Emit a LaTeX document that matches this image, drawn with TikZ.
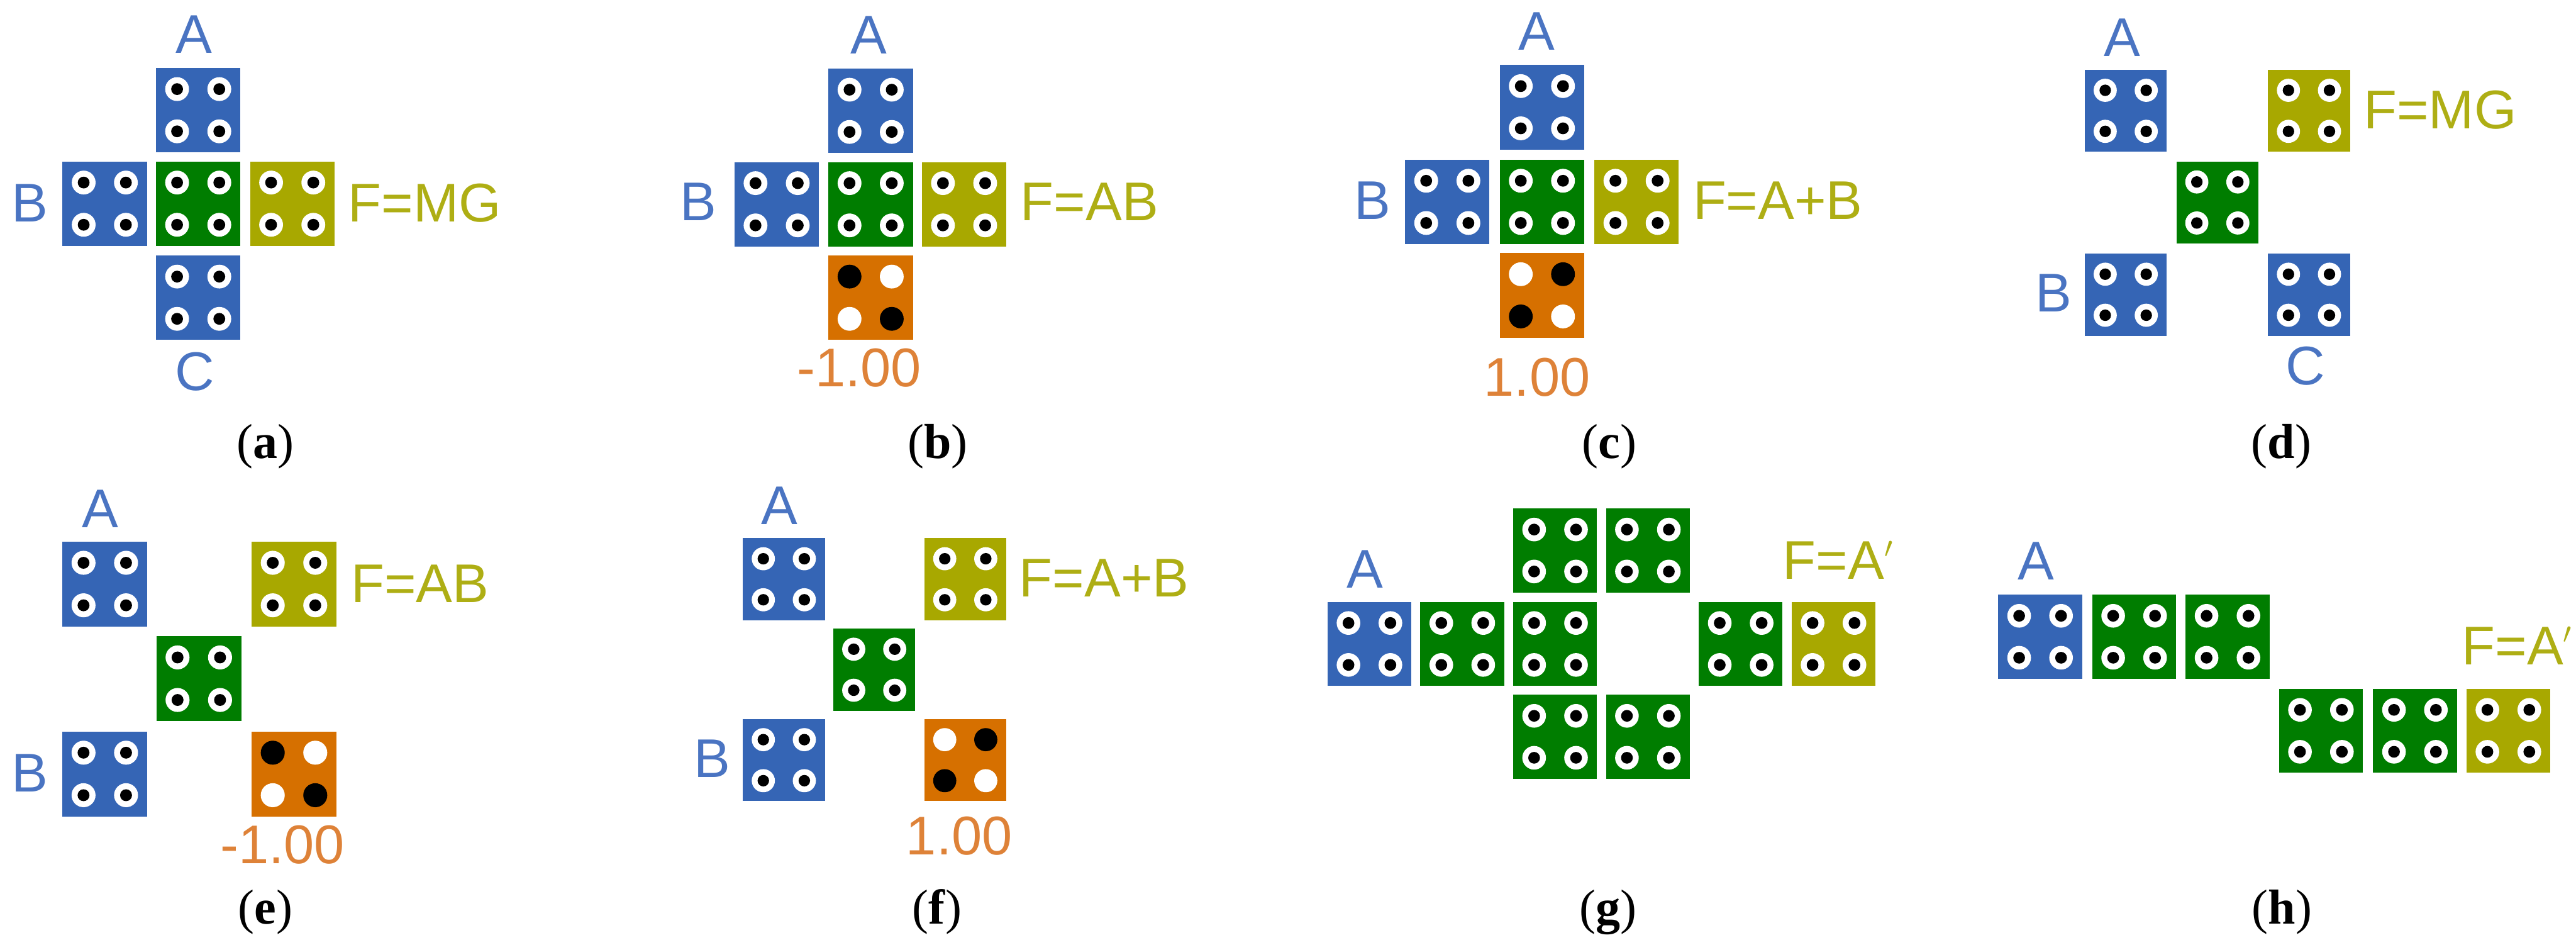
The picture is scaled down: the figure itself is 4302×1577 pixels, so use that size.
\documentclass[tikz,border=0pt]{standalone}
\usepackage{fontspec}
\setmainfont{Liberation Sans}
\newfontfamily\capfont{Liberation Serif}
\definecolor{tblue}{HTML}{3565B5}
\definecolor{tgreen}{HTML}{007D00}
\definecolor{tolive}{HTML}{A8A800}
\definecolor{torange}{HTML}{D67000}
\definecolor{lblue}{HTML}{4A74C2}
\definecolor{lolive}{HTML}{AEAE14}
\definecolor{lorange}{HTML}{DE8238}
\tikzset{
  tile/.style={rectangle,inner sep=0pt,minimum size={\tsz*.5pt}},
  ring/.style={circle,inner sep=0pt,fill=white,minimum size={\tsz*.141pt}},
  dot/.style={circle,inner sep=0pt,fill=black,minimum size={\tsz*.07pt}},
  lab/.style={anchor=base,inner sep=0pt,font=\fontsize{45.5}{50}\selectfont},
  labw/.style={lab,anchor=base west},
  caption/.style={anchor=base,inner sep=0pt,font=\fontsize{41}{44}\selectfont\capfont}
}
\newcommand{\tile}[4]{
  \node[tile,fill=#4] (#1) at (#2,#3) {};
  \foreach \sx/\sy/\n in {-1/-1/1,1/-1/2,-1/1/3,1/1/4} {
    \node[ring] (#1r\n) at (#2+\sx*\tsz*.25,#3+\sy*\tsz*.25) {};
    \node[dot] (#1d\n) at (#1r\n) {};
  }
}
\newcommand{\sgn}[5]{
  \node[tile,fill=torange] (#1) at (#2,#3) {};
  \node[ring,fill=#4] (#1r1) at (#2-\tsz*.25,#3-\tsz*.25) {};
  \node[ring,fill=#5] (#1r2) at (#2+\tsz*.25,#3-\tsz*.25) {};
  \node[ring,fill=#5] (#1r3) at (#2-\tsz*.25,#3+\tsz*.25) {};
  \node[ring,fill=#4] (#1r4) at (#2+\tsz*.25,#3+\tsz*.25) {};
}
\begin{document}
\begin{tikzpicture}[x=.5pt,y=-.5pt]
   \useasboundingbox (0,0) rectangle (4302,1577);
   % a
   \def\tsz{141}
   \tile{aA}{331}{184}{tblue}
   \tile{aB}{175}{340}{tblue}
   \tile{aM}{331}{340}{tgreen}
   \tile{aF}{488}{340}{tolive}
   \tile{aC}{331}{497}{tblue}
   \node[lab,lblue] (alA) at (324,89) {A};
   \node[lab,lblue] (alB) at (50,370) {B};
   \node[labw,lolive] (alF) at (581,370) {F=MG};
   \node[lab,lblue] (alC) at (325,652) {C};
   \node[caption] (acap) at (443,765) {(\textbf{a})};
   % b
   \tile{bA}{1454}{185}{tblue}
   \tile{bB}{1297}{341}{tblue}
   \tile{bM}{1454}{341}{tgreen}
   \tile{bF}{1610}{341}{tolive}
   \sgn{bS}{1454}{497}{black}{white}
   \node[lab,lblue] (blA) at (1451,90) {A};
   \node[lab,lblue] (blB) at (1166,368) {B};
   \node[labw,lolive] (blF) at (1704,368) {F=AB};
   \node[lab,lorange] (blS) at (1435,645) {-1.00};
   \node[caption] (bcap) at (1566,765) {(\textbf{b})};
   % c
   \tile{cA}{2575}{179}{tblue}
   \tile{cB}{2417}{337}{tblue}
   \tile{cM}{2575}{337}{tgreen}
   \tile{cF}{2733}{337}{tolive}
   \sgn{cS}{2575}{493}{white}{black}
   \node[lab,lblue] (clA) at (2566,84) {A};
   \node[lab,lblue] (clB) at (2292,366) {B};
   \node[labw,lolive] (clF) at (2827,366) {F=A+B};
   \node[lab,lorange] (clS) at (2567,661) {1.00};
   \node[caption] (ccap) at (2688,765) {(\textbf{c})};
   % d
   \def\tsz{137}
   \tile{dA}{3550}{185}{tblue}
   \tile{dF}{3856}{185}{tolive}
   \tile{dM}{3703}{338}{tgreen}
   \tile{dB}{3550}{492}{tblue}
   \tile{dC}{3856}{492}{tblue}
   \node[lab,lblue] (dlA) at (3544,94) {A};
   \node[labw,lolive] (dlF) at (3947,215) {F=MG};
   \node[lab,lblue] (dlB) at (3430,520) {B};
   \node[lab,lblue] (dlC) at (3850,642) {C};
   \node[caption] (dcap) at (3810,765) {(\textbf{d})};
   % e
   \def\tsz{142}
   \tile{eA}{175}{975}{tblue}
   \tile{eF}{491}{975}{tolive}
   \tile{eM}{332}{1133}{tgreen}
   \tile{eB}{175}{1292}{tblue}
   \sgn{eS}{491}{1292}{black}{white}
   \node[lab,lblue] (elA) at (167,881) {A};
   \node[labw,lolive] (elF) at (586,1006) {F=AB};
   \node[lab,lblue] (elB) at (50,1322) {B};
   \node[lab,lorange] (elS) at (472,1442) {-1.00};
   \node[caption] (ecap) at (443,1542) {(\textbf{e})};
   % f
   \def\tsz{137}
   \tile{fA}{1309}{967}{tblue}
   \tile{fF}{1612}{967}{tolive}
   \tile{fM}{1460}{1118}{tgreen}
   \tile{fB}{1309}{1269}{tblue}
   \sgn{fS}{1612}{1269}{white}{black}
   \node[lab,lblue] (flA) at (1302,875) {A};
   \node[labw,lolive] (flF) at (1702,996) {F=A+B};
   \node[lab,lblue] (flB) at (1189,1298) {B};
   \node[lab,lorange] (flS) at (1602,1427) {1.00};
   \node[caption] (fcap) at (1565,1542) {(\textbf{f})};
   % g
   \def\tsz{140}
   \tile{gT1}{2597}{919}{tgreen}
   \tile{gT2}{2752}{919}{tgreen}
   \tile{gA}{2287}{1075}{tblue}
   \tile{gM1}{2442}{1075}{tgreen}
   \tile{gM2}{2597}{1075}{tgreen}
   \tile{gM3}{2907}{1075}{tgreen}
   \tile{gF}{3062}{1075}{tolive}
   \tile{gD1}{2597}{1230}{tgreen}
   \tile{gD2}{2752}{1230}{tgreen}
   \node[lab,lblue] (glA) at (2280,981) {A};
   \node[labw,lolive] (glF) at (2977,967) {F=A\raisebox{.2em}{$'$}};
   \node[caption] (gcap) at (2686,1542) {(\textbf{g})};
   % h
   \tile{hA}{3407}{1063}{tblue}
   \tile{hM1}{3564}{1063}{tgreen}
   \tile{hM2}{3720}{1063}{tgreen}
   \tile{hM3}{3876}{1220}{tgreen}
   \tile{hM4}{4033}{1220}{tgreen}
   \tile{hF}{4189}{1220}{tolive}
   \node[lab,lblue] (hlA) at (3400,968) {A};
   \node[labw,lolive] (hlF) at (4111,1110) {F=A\raisebox{.2em}{$'$}};
   \node[caption] (hcap) at (3811,1542) {(\textbf{h})};
\end{tikzpicture}
\end{document}
